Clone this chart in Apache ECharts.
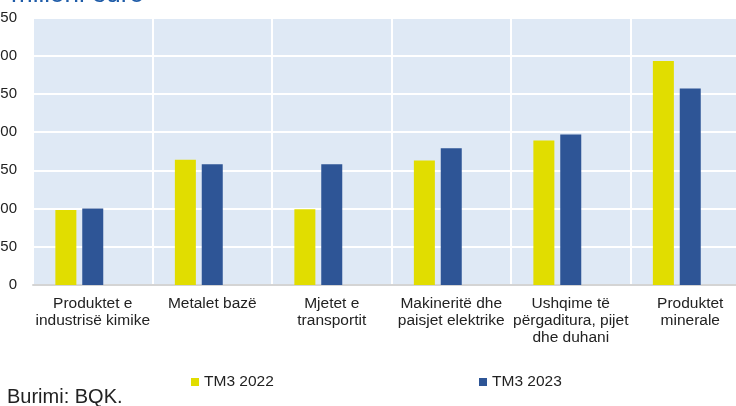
<!DOCTYPE html>
<html>
<head>
<meta charset="utf-8">
<script src="https://cdn.jsdelivr.net/npm/echarts@6/dist/echarts.min.js"></script>
<style>
  html, body { margin: 0; padding: 0; background: #fff; }
  #chart { width: 736px; height: 406px; }
</style>
</head>
<body>
<div id="chart"></div>
<script>
var categories = ['Produktet e\nindustrisë kimike', 'Metalet bazë', 'Mjetet e\ntransportit',
                  'Makineritë dhe\npaisjet elektrike', 'Ushqime të\npërgaditura, pijet\ndhe duhani',
                  'Produktet\nminerale'];
var tm3_2022 = [98, 164, 99, 163, 189, 293];
var tm3_2023 = [100, 158, 158, 179, 197, 257];
var seriesNames = ['TM3 2022', 'TM3 2023'];
var yTicks = { min: 0, max: 350, step: 50 };

var myChart = echarts.init(document.getElementById('chart'));

var font = 'Liberation Sans, Arial, sans-serif';

var option = {
    animation: false,
    title: {
        text: 'milioni euro',
        left: 6,
        top: -23,
        textStyle: { color: '#1f5ca8', fontSize: 26, fontWeight: 'normal', fontFamily: font }
    },
    graphic: [{
        type: 'text',
        left: 7,
        top: 387,
        style: { text: 'Burimi: BQK.', fill: '#222', font: '20px ' + font }
    }],
    legend: [
        {
            data: [seriesNames[0]], left: 186, top: 369,
            itemWidth: 8, itemHeight: 8, icon: 'rect', itemGap: 8,
            textStyle: { color: '#222', fontSize: 15.5, fontFamily: font }
        },
        {
            data: [seriesNames[1]], left: 474, top: 369,
            itemWidth: 8, itemHeight: 8, icon: 'rect', itemGap: 8,
            textStyle: { color: '#222', fontSize: 15.5, fontFamily: font }
        }
    ],
    grid: {
        left: 33, right: -14, top: 17.5, bottom: 121,
        containLabel: false, outerBoundsMode: 'none',
        show: true, backgroundColor: '#dfe9f5', borderWidth: 0
    },
    xAxis: {
        type: 'category',
        data: categories,
        axisTick: { show: false },
        axisLine: { show: true, lineStyle: { color: '#d4d4d4', width: 2 } },
        splitLine: { show: true, lineStyle: { color: '#ffffff', width: 2 } },
        axisLabel: {
            interval: 0, margin: 10, color: '#222', fontSize: 15.5, lineHeight: 17,
            fontFamily: font, hideOverlap: false
        }
    },
    yAxis: {
        type: 'value',
        min: yTicks.min, max: yTicks.max, interval: yTicks.step,
        axisLine: { show: false },
        axisTick: { show: false },
        splitLine: { show: true, lineStyle: { color: '#ffffff', width: 2 } },
        axisLabel: { margin: 16, color: '#222', fontSize: 15, fontFamily: font }
    },
    series: [
        {
            name: seriesNames[0], type: 'bar', data: tm3_2022,
            barWidth: 21, barGap: '28%',
            itemStyle: { color: '#e1dd00' }
        },
        {
            name: seriesNames[1], type: 'bar', data: tm3_2023,
            barWidth: 21, barGap: '28%',
            itemStyle: { color: '#2e5596' }
        },
        {
            name: 'bosh', type: 'bar', data: [],
            barWidth: 21, barGap: '28%'
        }
    ]
};

myChart.setOption(option);
</script>
</body>
</html>
